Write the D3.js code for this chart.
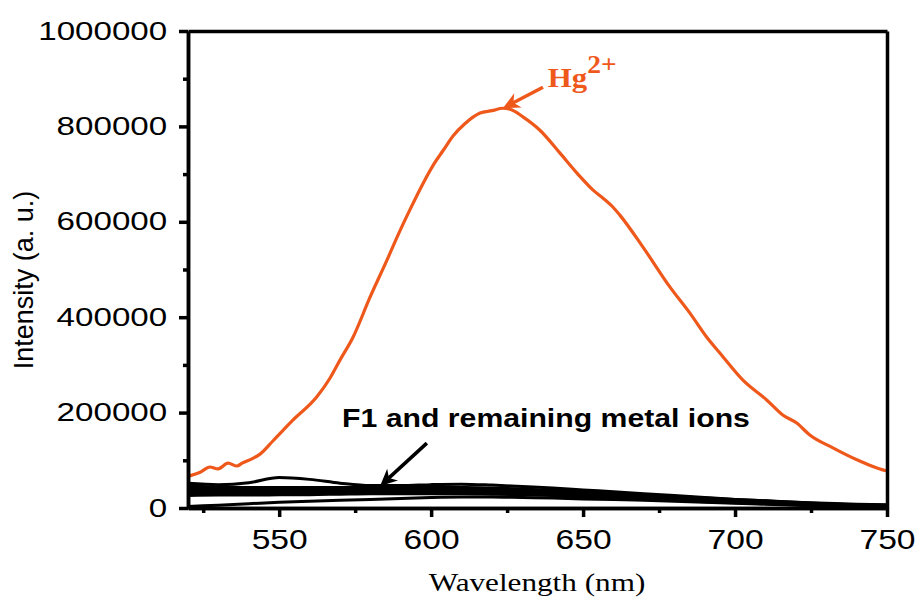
<!DOCTYPE html>
<html>
<head>
<meta charset="utf-8">
<script src="https://cdn.jsdelivr.net/npm/d3@7"></script>
<style>
  body { margin: 0; background: #fff; }
  svg { display: block; }
  .axis path, .axis line { stroke: #000; stroke-width: 3.5; }
  .axis text { fill: #000; font-family: "Liberation Sans", Arial, sans-serif; }
</style>
</head>
<body>
<svg width="917" height="601"></svg>
<script>
// Hg2+ emission spectrum
const hgWavelength = [520, 521.3, 524, 527.2, 529.9, 533.2, 536.1, 537.8, 541, 543.7, 548, 554.5, 562.4, 566.7, 570, 574.3, 579.9, 585.5, 588.8, 593, 597.3, 601, 604, 607.2, 611, 616.1, 620, 623.6, 626, 630.2, 635.8, 642.4, 648, 653.2, 656.5, 659.8, 662.1, 669.7, 678.6, 685.1, 690.7, 695, 702.6, 710.5, 715.7, 720.3, 724.6, 732.2, 740.1, 748.6, 750];
const hgIntensity = [67000, 69000, 75000, 86000, 82000, 94000, 88000, 94000, 103000, 113000, 141000, 184000, 233000, 272000, 310000, 358000, 442000, 520000, 568000, 625000, 680000, 722000, 750000, 780000, 805000, 828000, 833000, 838000, 836000, 820000, 792000, 744000, 702000, 667000, 650000, 631000, 614000, 547000, 463000, 409000, 358000, 325000, 268000, 226000, 195000, 178000, 153000, 126000, 101000, 80000, 78000];

// F1 and the remaining metal ions (shared wavelength grid)
const wavelengths = [520, 530, 540, 550, 560, 570, 580, 590, 600, 610, 620, 630, 640, 650, 660, 670, 680, 690, 700, 710, 720, 730, 740, 750];
const ion1 = [52000, 49000, 53000, 64000, 60000, 52000, 47000, 47000, 49000, 50000, 48000, 45000, 42000, 38000, 34000, 30000, 26000, 22000, 18000, 15000, 12000, 10000, 8000, 7000];
const ion2 = [46000, 44000, 43000, 43000, 43000, 43000, 43000, 44000, 44000, 43000, 42000, 40000, 37000, 34000, 31000, 27000, 24000, 21000, 18000, 15000, 12000, 9000, 7000, 6000];
const ion3 = [42000, 40000, 40000, 40000, 40000, 40000, 41000, 41000, 41000, 40000, 39000, 37000, 34000, 31000, 28000, 25000, 22000, 19000, 16000, 13000, 11000, 8000, 6000, 5000];
const ion4 = [38000, 37000, 37000, 37000, 37000, 38000, 38000, 38000, 38000, 37000, 36000, 34000, 32000, 29000, 26000, 23000, 20000, 17000, 14000, 12000, 9000, 7000, 5000, 4000];
const ion5 = [35000, 34000, 34000, 34000, 34000, 35000, 35000, 35000, 35000, 35000, 34000, 32000, 30000, 27000, 24000, 21000, 18000, 15000, 13000, 10000, 8000, 6000, 5000, 4000];
const ion6 = [31000, 31000, 31000, 32000, 32000, 33000, 33000, 33000, 33000, 33000, 32000, 30000, 28000, 25000, 23000, 20000, 17000, 14000, 12000, 10000, 8000, 6000, 4000, 3000];
const ion7 = [26000, 27000, 27000, 28000, 28000, 29000, 30000, 30000, 30000, 30000, 29000, 28000, 26000, 23000, 21000, 18000, 16000, 13000, 11000, 9000, 7000, 5000, 4000, 3000];
const ion8 = [3000, 6000, 9000, 12000, 14000, 16000, 18000, 20000, 22000, 23000, 23000, 22000, 21000, 19000, 18000, 16000, 14000, 12000, 10000, 8000, 6000, 4000, 3000, 2000];

const xTicks = [550, 600, 650, 700, 750];
const xMinor = [525, 575, 625, 675, 725];
const yTicks = [0, 200000, 400000, 600000, 800000, 1000000];
const yMinor = [100000, 300000, 500000, 700000, 900000];

const svg = d3.select("svg");

const x = d3.scaleLinear().domain([520, 750]).range([188, 887]);
const y = d3.scaleLinear().domain([0, 1000000]).range([508, 31]);

const line = d3.line()
  .x(d => x(d[0]))
  .y(d => y(d[1]))
  .curve(d3.curveMonotoneX);

// black spectra
const others = [ion1, ion2, ion3, ion4, ion5, ion6, ion7, ion8];
svg.append("g")
  .selectAll("path")
  .data(others)
  .join("path")
  .attr("d", vals => line(wavelengths.map((w, i) => [w, vals[i]])))
  .attr("fill", "none")
  .attr("stroke", "#000")
  .attr("stroke-width", 3);

// Hg2+ spectrum
svg.append("path")
  .attr("d", line(hgWavelength.map((w, i) => [w, hgIntensity[i]])))
  .attr("fill", "none")
  .attr("stroke", "#ef581b")
  .attr("stroke-width", 3.2);

// frame (top/right)
svg.append("g").attr("class", "axis")
  .attr("transform", "translate(0,31)")
  .call(d3.axisTop(x).tickValues([]).tickSizeOuter(0));
svg.append("g").attr("class", "axis")
  .attr("transform", "translate(887,0)")
  .call(d3.axisRight(y).tickValues([]).tickSizeOuter(0));

// minor ticks
svg.append("g").attr("class", "axis")
  .attr("transform", "translate(0,508)")
  .call(d3.axisBottom(x).tickValues(xMinor).tickSize(5).tickFormat("").tickSizeOuter(0));
svg.append("g").attr("class", "axis")
  .attr("transform", "translate(188,0)")
  .call(d3.axisLeft(y).tickValues(yMinor).tickSize(5).tickFormat("").tickSizeOuter(0));

// major ticks
const xAxis = svg.append("g").attr("class", "axis")
  .attr("transform", "translate(0,508)")
  .call(d3.axisBottom(x).tickValues(xTicks).tickSize(9).tickPadding(12).tickSizeOuter(0).tickFormat(d3.format("d")));
xAxis.selectAll("text")
  .attr("font-size", 28)
  .attr("transform", "scale(1.2,1)");

const yAxis = svg.append("g").attr("class", "axis")
  .attr("transform", "translate(188,0)")
  .call(d3.axisLeft(y).tickValues(yTicks).tickSize(9).tickSizeOuter(0).tickFormat(d3.format("d")));
yAxis.selectAll("text")
  .attr("font-size", 25.5)
  .attr("x", -16)
  .attr("transform", "scale(1.3,1)");

// axis titles
svg.append("text")
  .attr("transform", "translate(537,591) scale(1.2,1)")
  .attr("text-anchor", "middle")
  .attr("font-family", "'Liberation Serif', 'Times New Roman', serif")
  .attr("font-size", 26)
  .text("Wavelength (nm)");

svg.append("text")
  .attr("transform", "translate(33,280) rotate(-90)")
  .attr("text-anchor", "middle")
  .attr("font-family", "'Liberation Sans', Arial, sans-serif")
  .attr("font-size", 27)
  .text("Intensity (a. u.)");

// annotation arrows
function arrow(x0, y0, x1, y1, color) {
  const ang = Math.atan2(y1 - y0, x1 - x0);
  const len = 17, half = 8, back = 12;
  const px = Math.cos(ang), py = Math.sin(ang);
  const bx = x1 - px * len, by = y1 - py * len;
  const nx = -py, ny = px;
  const g = svg.append("g");
  g.append("line")
    .attr("x1", x0).attr("y1", y0)
    .attr("x2", x1 - px * 8).attr("y2", y1 - py * 8)
    .attr("stroke", color).attr("stroke-width", 3.5);
  g.append("path")
    .attr("d", `M${x1},${y1} L${bx + nx * half},${by + ny * half} L${x1 - px * back},${y1 - py * back} L${bx - nx * half},${by - ny * half} Z`)
    .attr("fill", color);
}

const hgArrow = { from: [636.8, 882000], to: [623.6, 838000] };
arrow(x(hgArrow.from[0]), y(hgArrow.from[1]), x(hgArrow.to[0]), y(hgArrow.to[1]), "#ef581b");

const ionArrow = { from: [598.6, 136000], to: [583.2, 46000] };
arrow(x(ionArrow.from[0]), y(ionArrow.from[1]), x(ionArrow.to[0]), y(ionArrow.to[1]), "#000");

// labels
const hgLabel = svg.append("text")
  .attr("transform", `translate(${x(638.4)},${y(882000)}) scale(1.1,1)`)
  .attr("font-family", "'Liberation Serif', 'Times New Roman', serif")
  .attr("font-weight", "bold")
  .attr("fill", "#ef581b");
hgLabel.append("tspan").attr("font-size", 28).text("Hg");
hgLabel.append("tspan").attr("font-size", 25).attr("dy", -14).text("2+");

svg.append("text")
  .attr("transform", `translate(${x(637.8)},${y(170000)}) scale(1.14,1)`)
  .attr("text-anchor", "middle")
  .attr("font-family", "'Liberation Sans', Arial, sans-serif")
  .attr("font-weight", "bold")
  .attr("font-size", 26.5)
  .text("F1 and remaining metal ions");
</script>
</body>
</html>
